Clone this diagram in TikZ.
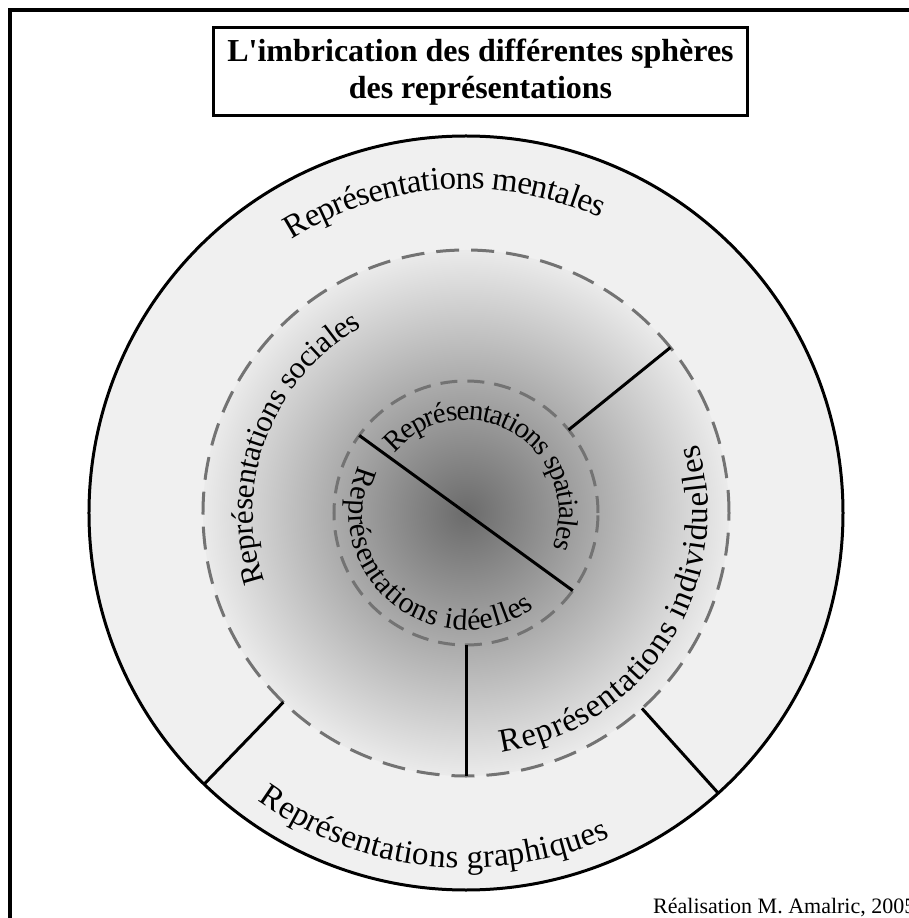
\documentclass[tikz,border=0pt]{standalone}
\usepackage{fontspec}
\setmainfont{Liberation Serif}
\usetikzlibrary{decorations.text}
\tikzset{
  sphere/.style={circle, inner sep=0pt, outer sep=0pt},
  boundary/.style={draw=black!55, line width=3pt, dash pattern=on 23pt off 12pt},
  core/.style={boundary, dash pattern=on 17pt off 10pt},
  split/.style={line width=3pt},
  arclabel/.style n args={3}{decorate, decoration={text along path, text align=center, raise=#2,
    text={|\fontsize{#1}{#1}\selectfont|#3}}}
}
\begin{document}
\begin{tikzpicture}[x=1pt, y=1pt]
    \useasboundingbox (-466,-405) rectangle (443,513);
    \clip (-466,-405) rectangle (443,513);
    \draw[line width=4pt] (-456,503) rectangle (480,-420);
    \node[draw, line width=3pt, minimum width=533pt, minimum height=88pt, align=center,
      font=\fontsize{32}{37}\selectfont\bfseries] (titre) at (14.5,441)
      {L\textquotesingle imbrication des différentes sphères\\des représentations};

    \node[sphere, draw, line width=3pt, fill=black!6, minimum size=754pt] (mentales) at (0,0) {};
    \node[sphere, boundary, inner color=black!58, outer color=black!8, minimum size=526pt] (sociales) at (0,0) {};
    \node[sphere, core, minimum size=264pt] (ideelles) at (0,0) {};

    \draw[split] (ideelles.144) -- (ideelles.-36);
    \draw[split] (ideelles.39) -- (sociales.39);
    \draw[split] (ideelles.-90) -- (sociales.-90);
    \draw[split] (sociales.226) -- (mentales.226);
    \draw[split] (sociales.-48) -- (mentales.-48);

    \path[arclabel={33}{-15pt}{Représentations mentales}] (150:339pt) arc[start angle=150, end angle=38, radius=339pt];
    \path[arclabel={33}{-7pt}{Représentations graphiques}] (214:348pt) arc[start angle=214, end angle=314, radius=348pt];
    \path[arclabel={31}{-6pt}{Représentations sociales}] (214:219pt) arc[start angle=214, end angle=104, radius=219pt];
    \path[arclabel={33}{-15pt}{Représentations individuelles}] (-97:227pt) arc[start angle=-97, end angle=32, radius=227pt];
    \path[arclabel={29}{-11pt}{Représentations spatiales}] (150:104pt) arc[start angle=150, end angle=-32, radius=104pt];
    \path[arclabel={30}{-6pt}{Représentations idéelles}] (141:111pt) arc[start angle=141, end angle=321, radius=111pt];

    \node[anchor=base west, inner sep=0pt, font=\fontsize{22}{22}\selectfont] (credit) at (187,-400) {Réalisation M. Amalric, 2005};
\end{tikzpicture}
\end{document}
